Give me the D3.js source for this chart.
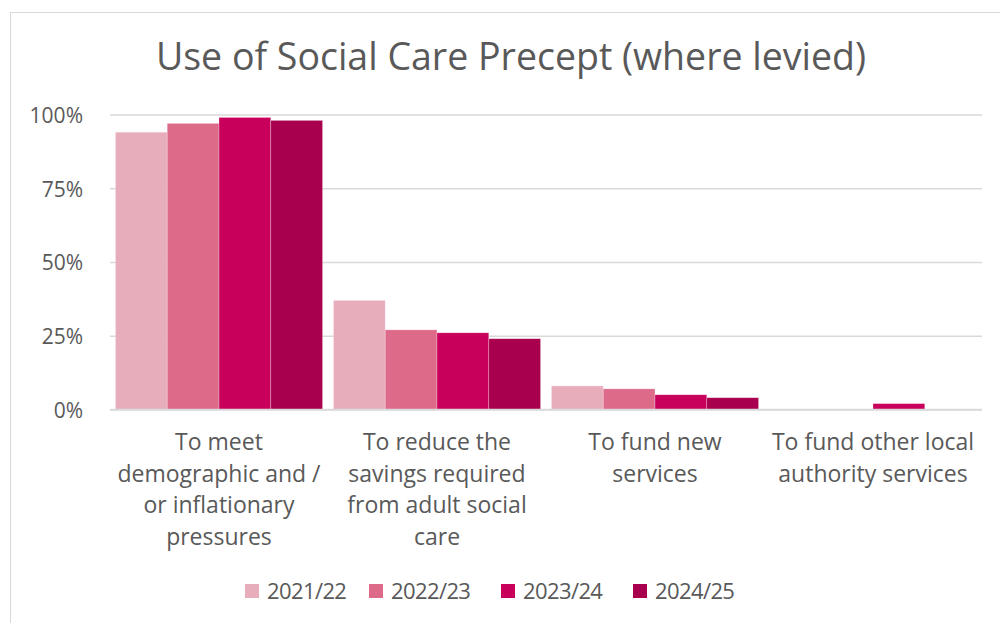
<!DOCTYPE html>
<html>
<head>
<meta charset="utf-8">
<script src="https://cdn.jsdelivr.net/npm/d3@7"></script>
<style>
  html, body { margin: 0; padding: 0; background: #fff; }
  svg { display: block; }
  text { font-family: "Open Sans", "Lato", sans-serif; fill: #595959; }
</style>
</head>
<body>
<svg id="chart" width="1000" height="623"></svg>
<script>
// Survey responses: share of councils using the precept for each purpose
const categories = [
  ["To meet", "demographic and /", "or inflationary", "pressures"],
  ["To reduce the", "savings required", "from adult social", "care"],
  ["To fund new", "services"],
  ["To fund other local", "authority services"]
];
const seriesNames = ["2021/22", "2022/23", "2023/24", "2024/25"];
const v2021 = [94, 37, 8, 0];
const v2022 = [97, 27, 7, 0];
const v2023 = [99, 26, 5, 2];
const v2024 = [98, 24, 4, 0];
const yTicks = [0, 25, 50, 75, 100];
const colors = ["#E8ADBB", "#DE6A8A", "#C8005C", "#A8004E"];

const seriesValues = [v2021, v2022, v2023, v2024];

const svg = d3.select("#chart");
const W = 1000, H = 623;

// chart frame
svg.append("rect")
  .attr("x", 10.5).attr("y", 12.5)
  .attr("width", W + 20).attr("height", H + 20)
  .attr("fill", "#fff").attr("stroke", "#d9d9d9").attr("stroke-width", 1);

const plot = { left: 110, right: 982, top: 114.5, bottom: 409.5 };

const x0 = d3.scaleBand()
  .domain(d3.range(categories.length))
  .range([plot.left, plot.right])
  .paddingInner(0.05).paddingOuter(0.025);

const x1 = d3.scaleBand()
  .domain(d3.range(seriesNames.length))
  .range([0, x0.bandwidth()]);

const y = d3.scaleLinear().domain([0, 100]).range([plot.bottom, plot.top]);

// title
svg.append("text")
  .attr("x", 511).attr("y", 70)
  .attr("text-anchor", "middle")
  .style("font-size", "37.5px")
  .text("Use of Social Care Precept (where levied)");

// gridlines and percentage ticks
const yAxis = d3.axisLeft(y)
  .tickValues(yTicks)
  .tickSize(-(plot.right - plot.left))
  .tickPadding(27)
  .tickFormat(d => d + "%");

const gy = svg.append("g")
  .attr("transform", `translate(${plot.left},0)`)
  .call(yAxis);
gy.select(".domain").remove();
gy.selectAll(".tick line").attr("stroke", "#d9d9d9").attr("stroke-width", 1.5);
gy.selectAll(".tick text")
  .style("font-size", "21px")
  .attr("dy", "0.38em")
  .attr("fill", "#595959");

// bars
const groups = svg.append("g").selectAll("g")
  .data(categories.map((c, i) => i))
  .join("g")
  .attr("transform", i => `translate(${x0(i)},0)`);

groups.selectAll("rect")
  .data(i => seriesValues.map((vals, s) => ({ s, v: vals[i] })))
  .join("rect")
  .filter(d => d.v > 0)
  .attr("x", d => x1(d.s))
  .attr("width", x1.bandwidth())
  .attr("y", d => y(d.v))
  .attr("height", d => y(0) - y(d.v))
  .attr("fill", d => colors[d.s])
  .attr("stroke", "#fff")
  .attr("stroke-opacity", 0.35)
  .attr("stroke-width", 0.75);

// baseline over bars
svg.append("line")
  .attr("x1", plot.left).attr("x2", plot.right)
  .attr("y1", y(0)).attr("y2", y(0))
  .attr("stroke", "#d9d9d9").attr("stroke-width", 1.5);

// category labels
const labels = svg.append("g").selectAll("text")
  .data(categories)
  .join("text")
  .attr("text-anchor", "middle")
  .attr("x", (d, i) => x0(i) + x0.bandwidth() / 2)
  .attr("y", 450)
  .style("font-size", "23px");
labels.selectAll("tspan")
  .data(d => d)
  .join("tspan")
  .attr("x", function () { return d3.select(this.parentNode).attr("x"); })
  .attr("dy", (d, i) => i === 0 ? 0 : 31.6)
  .text(d => d);

// legend
const legendX = [245, 369, 501, 633];
const legend = svg.append("g").selectAll("g")
  .data(seriesNames)
  .join("g")
  .attr("transform", (d, i) => `translate(${legendX[i]},584)`);
legend.append("rect")
  .attr("width", 14).attr("height", 14)
  .attr("fill", (d, i) => colors[i]);
legend.append("text")
  .attr("x", 22).attr("y", 15)
  .style("font-size", "22px")
  .style("letter-spacing", "-0.6px")
  .text(d => d);
</script>
</body>
</html>
